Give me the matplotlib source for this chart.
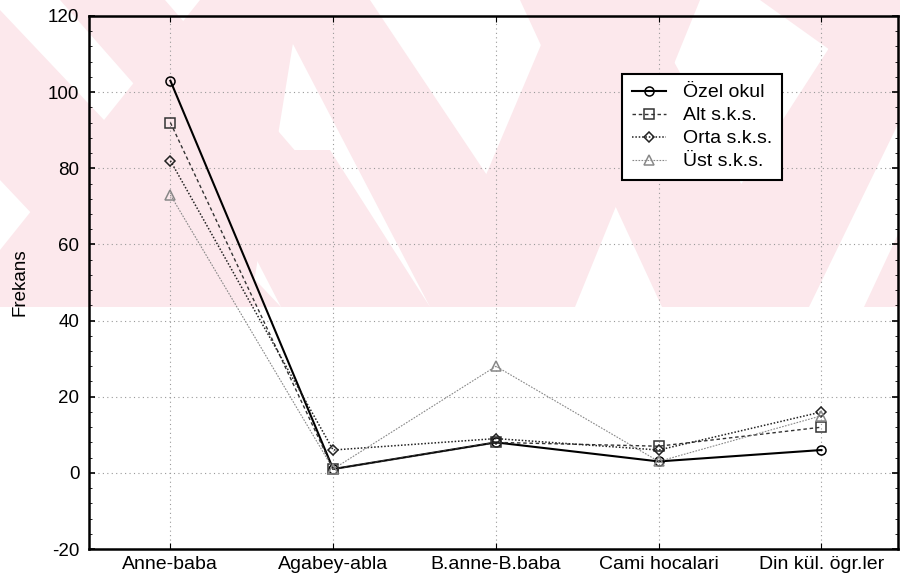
import matplotlib
matplotlib.use("Agg")
import matplotlib.pyplot as plt
from matplotlib.patches import Polygon
from matplotlib.ticker import MultipleLocator

categories = ['Anne-baba', 'Agabey-abla', 'B.anne-B.baba', 'Cami hocalari', 'Din kül. ögr.ler']
ozel_okul = [103, 1, 8, 3, 6]
alt_sks = [92, 1, 8, 7, 12]
orta_sks = [82, 6, 9, 6, 16]
ust_sks = [73, 1, 28, 3, 15]

plt.rcParams['font.family'] = ['Liberation Sans', 'DejaVu Sans']
plt.rcParams['axes.unicode_minus'] = False

fig = plt.figure(figsize=(9, 5.85), dpi=100)

# pale watermark in the upper part of the page (figure pixel coords)
pink = '#fce8ec'
W, H = 900, 585
yb = 307
wm = [
    [(0, 0), (0, 180), (120, yb), (281, yb), (0, 10)],
    [(60, 0), (165, 0), (430, yb), (330, yb)],
    [(281, yb), (430, yb), (330, 150), (200, 150)],
    [(0, 250), (0, yb), (250, yb), (300, 0), (200, 0)],
    [(270, 0), (370, 0), (575, yb), (430, yb)],
    [(430, yb), (575, yb), (700, 0), (560, 0)],
    [(520, 0), (640, 0), (809, yb), (662, yb)],
    [(662, yb), (809, yb), (900, 120), (900, 0), (860, 0)],
    [(760, 0), (900, 0), (900, 100)],
    [(864, yb), (900, yb), (900, 230)],
]
for poly in wm:
    pts = [(x / W, 1 - y / H) for x, y in poly]
    fig.patches.append(Polygon(pts, closed=True, transform=fig.transFigure,
                               facecolor=pink, edgecolor='none', zorder=-5))

ax = fig.add_axes([89 / W, 1 - 549 / H, (898 - 89) / W, (549 - 16) / H])
ax.patch.set_alpha(0)

x = list(range(len(categories)))
mk = dict(markerfacecolor='none', markersize=6.5, markeredgewidth=1.1)
ax.plot(x, ozel_okul, '-', color='black', lw=1.5, marker='o', label='Özel okul', **mk)
ax.plot(x, alt_sks, color='#333333', lw=1.0, ls=(0, (2.5, 2)), marker='s',
        label='Alt s.k.s.', **mk)
ax.plot(x, orta_sks, color='#222222', lw=1.1, ls=(0, (1, 1.2)), marker='D',
        label='Orta s.k.s.', **dict(mk, markersize=5.5))
ax.plot(x, ust_sks, color='#888888', lw=0.8, ls=(0, (1.5, 1.2)), marker='^',
        label='Üst s.k.s.', **mk)

ax.set_xlim(-0.5, 4.47)
ax.set_ylim(-20, 120)
ax.set_xticks(x)
ax.set_xticklabels(categories, fontsize=14)
ax.yaxis.set_major_locator(MultipleLocator(20))
ax.yaxis.set_minor_locator(MultipleLocator(4))
ax.tick_params(axis='y', labelsize=13.5, direction='in', length=4, width=1.2,
               right=True, pad=7)
ax.tick_params(axis='y', which='minor', direction='in', length=2, right=True)
ax.tick_params(axis='x', direction='in', length=4, top=True, pad=5)
ax.grid(True, color='#999999', ls=(0, (1, 3)), lw=0.8)
ax.set_axisbelow(True)
for s in ax.spines.values():
    s.set_linewidth(1.8)
ax.set_ylabel('Frekans', fontsize=13.5, labelpad=14)

leg = ax.legend(loc='upper left', bbox_to_anchor=((622 - 89) / (898 - 89), 1 - (74 - 16) / (549 - 16)),
                borderaxespad=0, fontsize=14, frameon=True, fancybox=False, edgecolor='black',
                framealpha=1, handlelength=1.75, handletextpad=0.9, borderpad=0.5,
                labelspacing=0.28)
leg.get_frame().set_linewidth(1.5)

fig.savefig('out.png', dpi=100)
